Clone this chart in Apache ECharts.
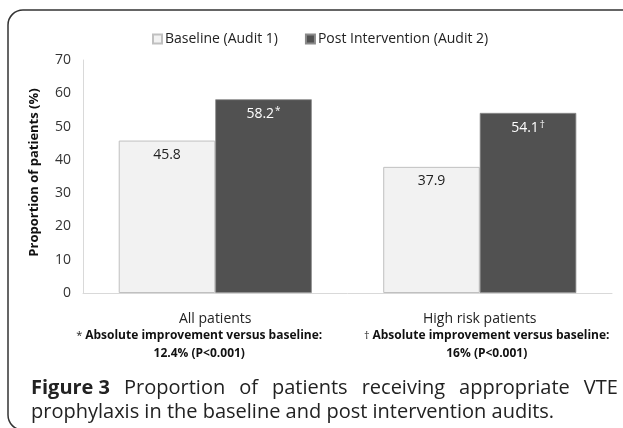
<!DOCTYPE html>
<html>
<head>
<meta charset="utf-8">
<script src="https://cdn.jsdelivr.net/npm/echarts@6/dist/echarts.min.js"></script>
<style>html,body{margin:0;padding:0;background:#fff}#c{width:623px;height:428px}</style>
</head>
<body>
<div id="c"></div>
<script>
var categories = ['All patients', 'High risk patients'];
var baseline = [45.8, 37.9];
var post = [58.2, 54.1];
var marks = ['*', '\u2020'];
var noteMarks = ['*', '\u2020'];
var noteLine1 = 'Absolute improvement versus baseline:';
var noteLine2 = ['12.4% (P<0.001)', '16% (P<0.001)'];
var seriesNames = ['Baseline (Audit 1)', 'Post Intervention (Audit 2)'];
var yTicks = {min: 0, max: 70, interval: 10};
var yName = 'Proportion of patients (%)';
var captionBold = 'Figure 3';
var captionLine1Words = ['Proportion', 'of', 'patients', 'receiving', 'appropriate', 'VTE'];
var captionLine2 = 'prophylaxis in the baseline and post intervention audits.';

var FONT = '"Open Sans", sans-serif';
var line1 = '{b|' + captionBold + '}';
captionLine1Words.forEach(function (w) { line1 += '{sp| }{n|' + w + '}'; });

// note lines are offset from category centre in the reference (left pad / right pad tokens)
var noteShift = [-16, 7];
function shifted(txt, i) {
  var s = noteShift[i];
  if (s < 0) return txt + '{pr' + i + '|}';
  return '{pl' + i + '|}' + txt;
}
var richX = {
  c: {fontFamily: FONT, fontSize: 14, color: '#222', lineHeight: 16},
  m: {fontFamily: FONT, fontSize: 11, color: '#222', lineHeight: 18},
  t: {fontFamily: FONT, fontSize: 12, fontWeight: 'bold', color: '#111', lineHeight: 18}
};
noteShift.forEach(function (s, i) {
  richX['pr' + i] = {width: Math.abs(2 * s), lineHeight: 18};
  richX['pl' + i] = {width: Math.abs(2 * s), lineHeight: 18};
});

var chart = echarts.init(document.getElementById('c'), null, {renderer: 'canvas'});
chart.setOption({
  animation: false,
  textStyle: {fontFamily: FONT},
  graphic: [
    {type: 'rect', shape: {x: 8, y: 10, width: 700, height: 420, r: [15, 0, 0, 15]},
     style: {fill: 'none', stroke: '#333', lineWidth: 1.5}, z: 100}
  ],
  title: {
    left: 26, top: 371,
    text: line1 + '\n{n|' + captionLine2 + '}',
    textStyle: {
      rich: {
        b: {fontFamily: FONT, fontWeight: 'bold', fontSize: 20, color: '#222', lineHeight: 24},
        n: {fontFamily: FONT, fontWeight: 500, fontSize: 20, color: '#222', lineHeight: 24},
        sp: {fontFamily: FONT, fontSize: 20, width: 14, lineHeight: 24}
      }
    }
  },
  legend: {
    top: 27, left: 147,
    itemWidth: 9, itemHeight: 9, itemGap: 27,
    icon: 'rect',
    textStyle: {fontFamily: FONT, fontSize: 14, color: '#222', padding: [0, 0, 0, -2]},
    data: seriesNames
  },
  grid: {left: 83, right: 11, top: 60, bottom: 135},
  xAxis: {
    type: 'category',
    data: categories,
    axisLine: {lineStyle: {color: '#d9d9d9'}},
    axisTick: {show: false},
    axisLabel: {
      margin: 18,
      interval: 0,
      formatter: function (v, i) {
        return '{c|' + v + '}\n' +
          shifted('{m|' + noteMarks[i] + ' }{t|' + noteLine1 + '}', i) + '\n' +
          shifted('{t|' + noteLine2[i] + '}', i);
      },
      rich: richX
    }
  },
  yAxis: {
    type: 'value',
    min: yTicks.min, max: yTicks.max, interval: yTicks.interval,
    name: yName,
    nameLocation: 'middle',
    nameGap: 42,
    nameTextStyle: {fontFamily: FONT, fontSize: 13, fontWeight: 'bold', color: '#111', padding: [0, 0, 0, 8]},
    axisLine: {show: true, lineStyle: {color: '#d9d9d9'}},
    axisTick: {show: false},
    splitLine: {show: false},
    axisLabel: {fontFamily: FONT, fontSize: 14, color: '#333', margin: 12}
  },
  series: [
    {
      name: seriesNames[0], type: 'bar', data: baseline,
      barGap: '0%', barCategoryGap: '27%',
      itemStyle: {color: '#f2f2f2', borderColor: '#c0c0c0', borderWidth: 1},
      label: {show: true, position: 'insideTop', distance: 7, fontFamily: FONT, fontSize: 14, color: '#222'}
    },
    {
      name: seriesNames[1], type: 'bar', data: post,
      itemStyle: {color: '#515151', borderColor: '#8a8a8a', borderWidth: 0.8},
      label: {
        show: true, position: 'insideTop', distance: 7,
        formatter: function (p) { return '{v|' + p.value + '}{s|' + marks[p.dataIndex] + '}'; },
        rich: {
          v: {fontFamily: FONT, fontSize: 14, color: '#fff'},
          s: {fontFamily: FONT, fontSize: 10, color: '#fff', verticalAlign: 'top', padding: [0, 0, 6, 1]}
        }
      }
    }
  ]
});
</script>
</body>
</html>
